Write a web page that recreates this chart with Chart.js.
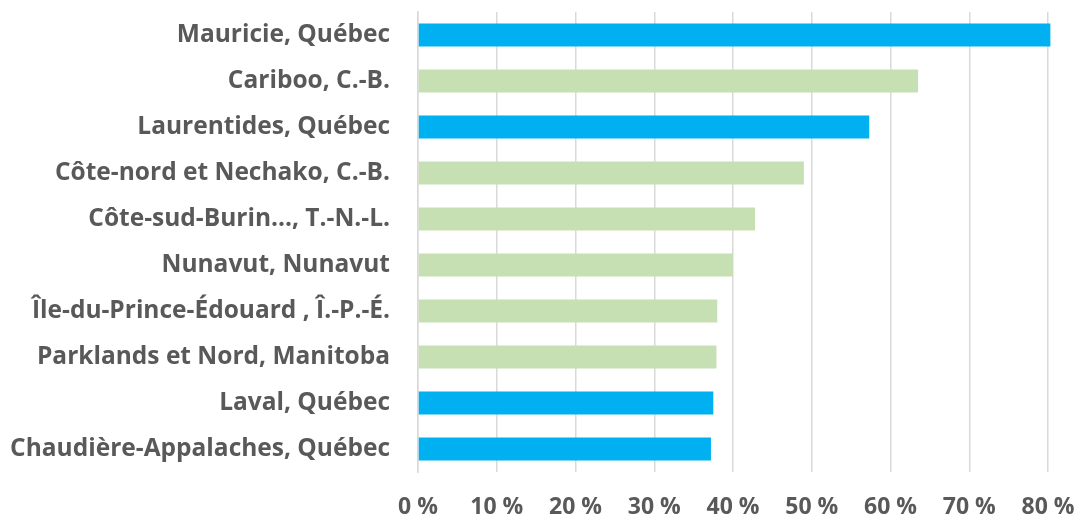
<!DOCTYPE html>
<html>
<head>
<meta charset="utf-8">
<script src="https://cdn.jsdelivr.net/npm/chart.js@4/dist/chart.umd.min.js"></script>
<style>
  html, body { margin: 0; padding: 0; background: #fff; }
  #wrap { width: 1076px; height: 519px; }
</style>
</head>
<body>
<div id="wrap"><canvas id="graphique"></canvas></div>
<script>
const regions = [
    'Mauricie, Québec',
    'Cariboo, C.-B.',
    'Laurentides, Québec',
    'Côte-nord et Nechako, C.-B.',
    'Côte-sud-Burin..., T.-N.-L.',
    'Nunavut, Nunavut',
    'Île-du-Prince-Édouard , Î.-P.-É.',
    'Parklands et Nord, Manitoba',
    'Laval, Québec',
    'Chaudière-Appalaches, Québec'
];
const valeurs = [80.3, 63.5, 57.3, 49.0, 42.8, 40.0, 38.0, 37.9, 37.5, 37.2];
const estQuebec = [true, false, true, false, false, false, false, false, true, true];
const ticksX = [0, 10, 20, 30, 40, 50, 60, 70, 80];

const bleu = '#00B0F0';
const vert = '#C6E0B4';
const gris = '#595959';

new Chart(document.getElementById('graphique'), {
    type: 'bar',
    data: {
        labels: regions,
        datasets: [{
            data: valeurs,
            backgroundColor: estQuebec.map(q => q ? bleu : vert),
            barPercentage: 0.5,
            categoryPercentage: 1.0,
            clip: false
        }]
    },
    options: {
        indexAxis: 'y',
        responsive: true,
        maintainAspectRatio: false,
        animation: false,
        layout: { padding: { top: 12, right: 28, left: 0, bottom: 0 } },
        plugins: { legend: { display: false }, tooltip: { enabled: false } },
        scales: {
            x: {
                min: 0,
                max: 80,
                afterBuildTicks: s => { s.ticks = ticksX.map(v => ({ value: v })); },
                afterFit: s => { s.height = 47; s.paddingLeft = 0; s.paddingRight = 0; },
                grid: { color: '#D9D9D9', lineWidth: 1.5, drawTicks: false },
                border: { display: false },
                ticks: {
                    padding: 22,
                    color: gris,
                    font: { family: 'Open Sans', weight: 'bold', size: 23 },
                    callback: v => v + ' %'
                }
            },
            y: {
                afterFit: s => { s.width = 418; s.paddingTop = 0; s.paddingBottom = 0; },
                grid: { display: false, drawTicks: false },
                border: { display: true, color: '#D9D9D9', width: 1.5 },
                ticks: {
                    padding: 28,
                    color: gris,
                    font: { family: 'Open Sans', weight: 'bold', size: 24.5 }
                }
            }
        }
    }
});
</script>
</body>
</html>
